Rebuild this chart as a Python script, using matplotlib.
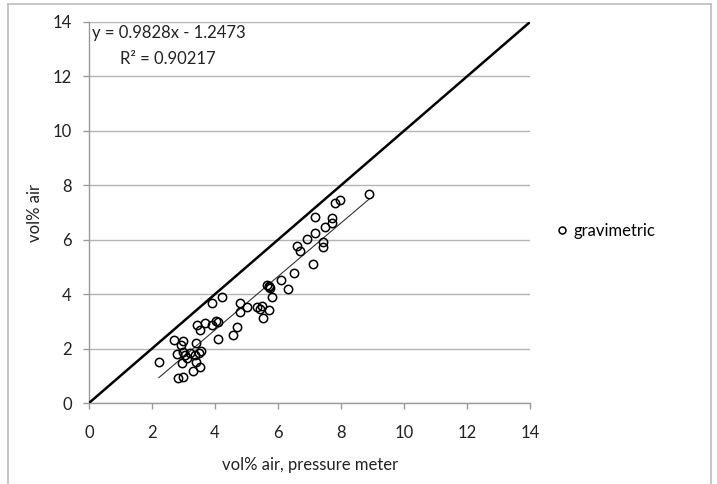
import matplotlib
matplotlib.use("Agg")
import matplotlib.pyplot as plt
from matplotlib.lines import Line2D
import numpy as np

plt.rcParams['font.family'] = ['Lato', 'DejaVu Sans']

# data: (vol% air, pressure meter) vs (vol% air, gravimetric)
x_vals = [2.22, 2.70, 2.99, 2.91, 2.80, 2.99, 3.05, 3.21, 2.94, 3.10,
          3.40, 3.37, 3.50, 3.56, 3.40, 3.52, 3.31, 2.81, 2.99,
          4.21, 3.89, 3.42, 3.52, 3.68, 3.89, 4.03, 4.10, 4.10, 4.58, 4.69,
          4.79, 4.79, 5.03, 5.32, 5.42, 5.48, 5.72, 5.51,
          5.80, 6.10, 6.32, 6.50, 5.65, 5.70, 5.72, 5.76,
          6.61, 6.70, 6.91, 7.10, 7.19, 7.19, 7.42, 7.42, 7.50,
          7.70, 7.70, 7.81, 7.97, 8.90]
y_vals = [1.50, 2.32, 2.28, 2.13, 1.80, 1.89, 1.76, 1.83, 1.46, 1.64,
          2.19, 1.76, 1.83, 1.92, 1.52, 1.33, 1.19, 0.91, 0.94,
          3.91, 3.69, 2.87, 2.68, 2.93, 2.87, 3.03, 2.99, 2.36, 2.50, 2.81,
          3.66, 3.33, 3.52, 3.52, 3.45, 3.58, 3.40, 3.13,
          3.89, 4.53, 4.18, 4.79, 4.35, 4.25, 4.30, 4.22,
          5.78, 5.60, 6.02, 5.10, 6.83, 6.24, 5.93, 5.72, 6.45,
          6.79, 6.61, 7.34, 7.46, 7.68]

series_label = "gravimetric"
trend_slope = 0.9828
trend_intercept = -1.2473
r_squared = 0.90217
ticks = [0, 2, 4, 6, 8, 10, 12, 14]

FS = 12
W, H = 717, 484
fig = plt.figure(figsize=(W / 100, H / 100), dpi=100)
ax = fig.add_axes([89 / W, 1 - 403 / H, (530 - 89) / W, (403 - 22) / H])

ax.set_xlim(0, 14)
ax.set_ylim(0, 14)
ax.set_xticks(ticks)
ax.set_yticks(ticks)
ax.yaxis.grid(True, color='#b4b4b4', linewidth=1.0)
ax.set_axisbelow(True)
for s in ['top', 'right']:
    ax.spines[s].set_visible(False)
for s in ['left', 'bottom']:
    ax.spines[s].set_color('#9a9a9a')
    ax.spines[s].set_linewidth(1.0)
ax.tick_params(axis='x', direction='out', length=4, width=1, color='#9a9a9a',
               pad=12, labelsize=FS, labelcolor='#222222')
ax.tick_params(axis='y', direction='out', length=4.5, width=1, color='#9a9a9a',
               pad=8, labelsize=FS, labelcolor='#222222')

# 1:1 line
ax.plot([0, 14], [0, 14], color='black', linewidth=1.8, zorder=3)

# linear trend line over data range
xs = np.array([min(x_vals), max(x_vals)])
ax.plot(xs, trend_slope * xs + trend_intercept, color='#333333', linewidth=0.8, zorder=3)

# scatter points
ax.plot(x_vals, y_vals, linestyle='none', marker='o', markersize=6,
        markerfacecolor='none', markeredgecolor='black', markeredgewidth=1.1, zorder=4)

ax.text(0.007, 0.971, f"y = {trend_slope}x - {abs(trend_intercept)}", transform=ax.transAxes,
        fontsize=FS, va='center', ha='left', color='#222222')
ax.text(0.070, 0.903, f"R\u00b2 = {r_squared}", transform=ax.transAxes,
        fontsize=FS, va='center', ha='left', color='#222222')

fig.text(310 / W, 1 - 465 / H, "vol% air, pressure meter", ha='center', va='center',
         fontsize=FS, color='#222222')
fig.text(35 / W, 1 - 213 / H, "vol% air", ha='center', va='center', rotation=90,
         fontsize=FS, color='#222222')

handle = Line2D([], [], linestyle='none', marker='o', markersize=5,
                markerfacecolor='none', markeredgecolor='black', markeredgewidth=1.1)
fig.legend([handle], [series_label], loc='center left',
           bbox_to_anchor=(556 / W, 1 - 231 / H), frameon=False,
           handlelength=0.7, handletextpad=0.35, borderaxespad=0, borderpad=0,
           fontsize=FS)

# outer chart frame
frame_color = '#bdbdbd'
fig.add_artist(Line2D([8 / W, 8 / W], [0, 1 - 4 / H], color=frame_color, linewidth=1.2))
fig.add_artist(Line2D([8 / W, 711 / W], [1 - 4 / H, 1 - 4 / H], color=frame_color, linewidth=1.2))
fig.add_artist(Line2D([711 / W, 711 / W], [0, 1 - 4 / H], color=frame_color, linewidth=1.2))

fig.savefig("out.png", dpi=100)
